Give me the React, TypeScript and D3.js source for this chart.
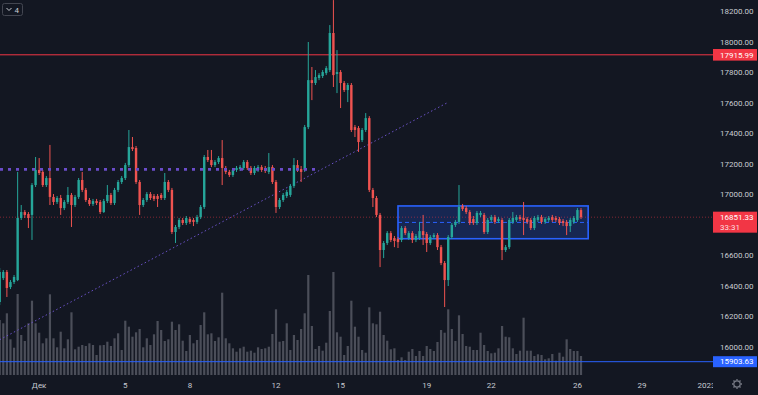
import React from 'react';
import * as d3 from 'd3';

// 4h candles, Nov 29 – Dec 26 (index 0 … 162)
const opens = [
  16295, 16452, 16492, 16393, 16426, 16439, 16846, 16885, 16872, 16866,
  17062, 17161, 17148, 17062, 17108, 16984, 16951, 16977, 16911, 16951,
  16997, 16931, 16984, 17095, 17030, 16964, 16938, 16957, 16951, 16885,
  16957, 16997, 16944, 17030, 17082, 17108, 17193, 17311, 17305, 17082,
  16931, 16964, 17003, 16990, 16990, 16997, 16977, 17082, 17030, 16754,
  16787, 16833, 16813, 16839, 16833, 16820, 16852, 16918, 17246, 17226,
  17193, 17213, 17239, 17174, 17148, 17128, 17161, 17167, 17174, 17213,
  17174, 17141, 17161, 17180, 17174, 17148, 17180, 17082, 16918, 16964,
  16990, 16997, 17056, 17193, 17167, 17161, 17442, 17750, 17731, 17764,
  17777, 17796, 17816, 18059, 17790, 17803, 17731, 17685, 17718, 17442,
  17436, 17357, 17423, 17501, 17030, 16977, 16866, 16636, 16682, 16747,
  16714, 16708, 16702, 16780, 16714, 16747, 16702, 16714, 16760, 16741,
  16682, 16721, 16734, 16655, 16551, 16439, 16721, 16800, 16820, 16925,
  16911, 16885, 16839, 16813, 16866, 16866, 16754, 16833, 16852, 16826,
  16833, 16636, 16655, 16820, 16833, 16852, 16846, 16839, 16833, 16780,
  16833, 16852, 16820, 16833, 16852, 16846, 16839, 16826, 16820, 16793,
  16820, 16833, 16898,
];
const highs = [
  16518, 16505, 16505, 16439, 16472, 17148, 16931, 16898, 16885, 17075,
  17246, 17239, 17161, 17121, 17325, 17003, 16990, 16997, 16964, 17049,
  17010, 16997, 17108, 17148, 17043, 16977, 16971, 16971, 16964, 16971,
  17062, 17010, 17043, 17095, 17121, 17207, 17423, 17377, 17318, 17095,
  16977, 17016, 17016, 17003, 17003, 17010, 17141, 17095, 17043, 16800,
  16846, 16846, 16859, 16852, 16846, 16866, 16931, 17259, 17292, 17292,
  17226, 17252, 17357, 17187, 17161, 17174, 17187, 17193, 17226, 17226,
  17187, 17187, 17193, 17193, 17187, 17272, 17193, 17095, 16977, 17010,
  17030, 17069, 17239, 17226, 17187, 17456, 18000, 17836, 17816, 17796,
  17816, 17842, 18111, 18275, 17947, 17816, 17744, 17731, 17731, 17456,
  17449, 17436, 17534, 17514, 17043, 16990, 16879, 16695, 16760, 16760,
  16728, 16721, 16793, 16793, 16760, 16760, 16741, 16820, 16866, 16754,
  16734, 16747, 16747, 16669, 16564, 16734, 16813, 16833, 17062, 16938,
  16925, 16898, 16859, 16892, 16892, 16879, 16846, 16866, 16866, 16852,
  16846, 16669, 16846, 16885, 16866, 16866, 16951, 16852, 16846, 16859,
  16866, 16866, 16852, 16859, 16866, 16859, 16852, 16839, 16833, 16846,
  16859, 16911, 16911,
];
const lows = [
  16275, 16439, 16328, 16380, 16413, 16432, 16833, 16846, 16780, 16702,
  17049, 17128, 17049, 17049, 16931, 16931, 16938, 16866, 16898, 16938,
  16787, 16918, 16971, 17016, 16951, 16925, 16925, 16931, 16872, 16879,
  16944, 16931, 16931, 17016, 17069, 17095, 17180, 17285, 17069, 16866,
  16918, 16951, 16964, 16957, 16918, 16964, 16964, 17016, 16741, 16682,
  16773, 16800, 16800, 16807, 16793, 16807, 16839, 16905, 17213, 17180,
  17180, 17200, 17062, 17134, 17115, 17115, 17148, 17154, 17161, 17161,
  17128, 17128, 17148, 17148, 17141, 17134, 17069, 16879, 16905, 16951,
  16977, 16984, 17043, 17148, 17082, 17148, 17429, 17619, 17718, 17750,
  17764, 17783, 17803, 17705, 17665, 17567, 17672, 17606, 17410, 17377,
  17279, 17344, 17410, 17016, 16918, 16852, 16524, 16583, 16669, 16688,
  16655, 16649, 16688, 16734, 16702, 16682, 16688, 16702, 16669, 16623,
  16669, 16708, 16636, 16537, 16262, 16400, 16708, 16787, 16807, 16892,
  16872, 16800, 16800, 16800, 16852, 16741, 16741, 16820, 16807, 16813,
  16570, 16623, 16642, 16807, 16820, 16826, 16734, 16807, 16767, 16767,
  16820, 16807, 16807, 16820, 16820, 16820, 16800, 16793, 16734, 16754,
  16807, 16820, 16839,
];
const closes = [
  16492, 16492, 16387, 16426, 16459, 16846, 16885, 16866, 16846, 17062,
  17161, 17141, 17062, 17108, 16984, 16951, 16977, 16911, 16951, 16997,
  16931, 16984, 17095, 17030, 16964, 16938, 16957, 16944, 16885, 16957,
  16997, 16944, 17030, 17082, 17108, 17193, 17311, 17298, 17082, 16931,
  16964, 17003, 16977, 16971, 16971, 16977, 17082, 17030, 16754, 16787,
  16833, 16813, 16846, 16820, 16820, 16852, 16918, 17246, 17226, 17193,
  17213, 17239, 17174, 17148, 17128, 17161, 17174, 17180, 17213, 17174,
  17141, 17174, 17180, 17161, 17154, 17180, 17082, 16918, 16964, 16997,
  17016, 17056, 17193, 17161, 17148, 17442, 17750, 17731, 17770, 17783,
  17803, 17829, 18059, 17783, 17803, 17731, 17685, 17718, 17423, 17423,
  17344, 17423, 17501, 17030, 16977, 16866, 16636, 16682, 16747, 16702,
  16695, 16688, 16780, 16747, 16747, 16702, 16728, 16760, 16734, 16682,
  16721, 16734, 16655, 16551, 16439, 16721, 16800, 16820, 16918, 16905,
  16885, 16813, 16813, 16879, 16879, 16754, 16833, 16852, 16820, 16839,
  16636, 16655, 16833, 16846, 16852, 16839, 16833, 16820, 16780, 16846,
  16852, 16820, 16839, 16846, 16833, 16833, 16813, 16813, 16793, 16833,
  16846, 16898, 16851.33,
];
const volumes = [
  1100, 1034, 1234, 714, 546, 1620, 800, 680, 1034, 1486,
  1034, 846, 634, 734, 1614, 734, 554, 866, 534, 714,
  1254, 514, 566, 600, 580, 634, 600, 400, 594, 600,
  666, 580, 734, 834, 500, 1086, 966, 766, 854, 920,
  554, 734, 600, 814, 1080, 900, 680, 714, 1066, 900,
  1014, 686, 480, 800, 634, 700, 1000, 1254, 814, 834,
  680, 754, 1646, 734, 634, 534, 466, 534, 566, 466,
  486, 446, 554, 520, 534, 566, 820, 1314, 666, 680,
  1034, 500, 800, 700, 920, 1234, 2000, 980, 520, 580,
  486, 646, 1280, 2060, 854, 766, 400, 580, 1486, 966,
  766, 500, 446, 1354, 1034, 1014, 1266, 800, 686, 514,
  534, 300, 354, 300, 466, 520, 380, 480, 380, 580,
  520, 480, 660, 900, 846, 1314, 920, 680, 1194, 820,
  580, 566, 500, 500, 846, 600, 480, 434, 446, 534,
  980, 766, 754, 534, 420, 486, 1146, 486, 486, 380,
  414, 400, 314, 334, 420, 286, 446, 366, 714, 520,
  480, 480, 380,
];

const priceTicks = [18200, 18000, 17800, 17600, 17400, 17200, 17000, 16600, 16400, 16200, 16000];
const dateLabels = ['Дек', '5', '8', '12', '15', '19', '22', '26', '29', '2023'];
const dateLabelIndex = [11, 35, 53, 77, 95, 119, 137, 161, 179, 197];

const resistanceLevel = 17915.99;
const supportLevel = 15903.63;
const lastPrice = 16851.33;
const countdown = '33:31';
const purpleLevel = 17165;
const purpleLevelEnd = 88.4;
const trendFrom = [0, 16048];
const trendTo = [124.6, 17600];
const rangeBox = { from: 111, to: 164, top: 16925, bottom: 16710, mid: 16817 };

const BG = '#131722';
const UP = '#26a69a';
const DOWN = '#ef5350';
const TXT = '#c8cbd2';
const FONT = "Roboto, 'Liberation Sans', Arial, sans-serif";

export default function App() {
  const W = 758, H = 395;
  const axisX = 713;
  const volBase = 375;
  const x = d3.scaleLinear().domain([0, 162]).range([-0.3, 581]);
  const y = d3.scaleLinear().domain([16000, 18000]).range([347, 42]);
  const vh = d3.scaleLinear().domain([0, 2000]).range([0, 100]);
  const bw = 2.4;
  const fmt = d3.format('.2f');

  const candles = opens.map((o, i) => ({ o, h: highs[i], l: lows[i], c: closes[i], v: volumes[i], i }));

  const gearTeeth = d3.range(8).map((k) => (k * Math.PI) / 4);

  return (
    <svg width={W} height={H} style={{ position: 'absolute', left: 0, top: 0, display: 'block' }} fontFamily={FONT}>
      <defs>
        <clipPath id="plot">
          <rect x={0} y={0} width={axisX} height={volBase} />
        </clipPath>
      </defs>
      <rect x={0} y={0} width={W} height={H} fill={BG} />

      <g clipPath="url(#plot)">
        {/* volume */}
        {candles.map((d) => (
          <rect key={'v' + d.i} x={x(d.i) - 1.1} width={2.2} y={volBase - vh(d.v)} height={vh(d.v)} fill="#4b4e59" />
        ))}

        {/* support line */}
        <line x1={0} x2={axisX} y1={y(supportLevel)} y2={y(supportLevel)} stroke="#2962ff" strokeWidth={1} />

        {/* resistance line */}
        <line x1={0} x2={axisX} y1={y(resistanceLevel)} y2={y(resistanceLevel)} stroke="#f23645" strokeWidth={1} />

        {/* range box */}
        <rect x={x(rangeBox.from)} y={y(rangeBox.top)} width={x(rangeBox.to) - x(rangeBox.from)}
          height={y(rangeBox.bottom) - y(rangeBox.top)} fill="rgba(41,98,255,0.22)" stroke="#2962ff" strokeWidth={1.6} />
        <line x1={x(rangeBox.from)} x2={x(rangeBox.to)} y1={y(rangeBox.mid)} y2={y(rangeBox.mid)}
          stroke="#2962ff" strokeWidth={1} strokeDasharray="4,3" />

        {/* last price dotted line */}
        <line x1={0} x2={axisX} y1={y(lastPrice)} y2={y(lastPrice)} stroke="#f23645" strokeOpacity={0.5}
          strokeWidth={1} strokeDasharray="1,2" />

        {/* trend line */}
        <line x1={x(trendFrom[0])} y1={y(trendFrom[1])} x2={x(trendTo[0])} y2={y(trendTo[1])}
          stroke="#6a52c8" strokeWidth={1} strokeDasharray="1.5,2.5" />

        {/* candles */}
        {candles.map((d) => {
          const col = d.c >= d.o ? UP : DOWN;
          const top = Math.min(y(d.o), y(d.c));
          const hgt = Math.max(1, Math.abs(y(d.o) - y(d.c)));
          return (
            <g key={'c' + d.i}>
              <line x1={x(d.i)} x2={x(d.i)} y1={y(d.h)} y2={y(d.l)} stroke={col} strokeWidth={1} />
              <rect x={x(d.i) - bw / 2} y={top} width={bw} height={hgt} fill={col} />
            </g>
          );
        })}

        {/* purple level */}
        <line x1={0} x2={x(purpleLevelEnd)} y1={y(purpleLevel)} y2={y(purpleLevel)} stroke="#6a4cc9"
          strokeWidth={2.6} strokeDasharray="3,5" />
      </g>

      {/* time axis */}
      {dateLabels.map((t, k) => (
        <text key={'t' + k} x={x(dateLabelIndex[k])} y={388} fontSize={8} fill={TXT} textAnchor="middle">{t}</text>
      ))}

      {/* price axis background */}
      <rect x={axisX} y={0} width={W - axisX} height={H} fill={BG} />
      {priceTicks.map((p) => (
        <text key={'p' + p} x={720} y={y(p)} dy="0.35em" fontSize={8} fill={TXT}>{fmt(p)}</text>
      ))}

      {/* resistance label */}
      <rect x={axisX} y={y(resistanceLevel) - 5.8} width={44} height={11.6} fill="#f23645" />
      <text x={720} y={y(resistanceLevel)} dy="0.35em" fontSize={8} fill="#ffffff">{fmt(resistanceLevel)}</text>

      {/* last price label */}
      <rect x={axisX} y={y(lastPrice) - 5.5} width={44} height={21} fill="#f23645" />
      <text x={720} y={y(lastPrice)} dy="0.35em" fontSize={8} fill="#ffffff">{fmt(lastPrice)}</text>
      <text x={720} y={y(lastPrice) + 10} dy="0.35em" fontSize={8} fill="#ffffff" fillOpacity={0.85}>{countdown}</text>

      {/* support label */}
      <rect x={axisX} y={y(supportLevel) - 5.5} width={44} height={11} fill="#2962ff" />
      <text x={720} y={y(supportLevel)} dy="0.35em" fontSize={8} fill="#ffffff">{fmt(supportLevel)}</text>

      {/* gear icon */}
      <g transform="translate(737,384)" stroke="#787b86" fill="none">
        <circle r={3.2} strokeWidth={1.2} />
        {gearTeeth.map((a, k) => (
          <line key={'g' + k} x1={Math.cos(a) * 3.6} y1={Math.sin(a) * 3.6} x2={Math.cos(a) * 5} y2={Math.sin(a) * 5} strokeWidth={1.3} />
        ))}
      </g>

      {/* legend toggle button */}
      <rect x={2.5} y={3.5} width={20} height={12} rx={2} fill="none" stroke="#434651" />
      <path d="M6.5,8 L9,10.5 L11.5,8" fill="none" stroke={TXT} strokeWidth={1} />
      <text x={14.5} y={12.5} fontSize={8} fill={TXT}>4</text>
    </svg>
  );
}
